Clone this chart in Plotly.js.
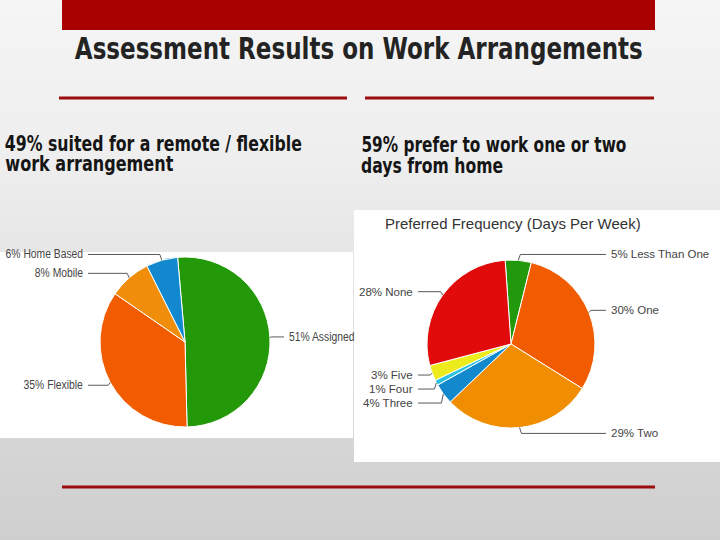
<!DOCTYPE html>
<html>
<head>
<meta charset="utf-8">
<script src="https://cdn.plot.ly/plotly-3.0.1.min.js"></script>
<style>
  html, body { margin: 0; padding: 0; }
  body { width: 720px; height: 540px; background: linear-gradient(#f5f5f5 0%, #eeeeee 30%, #e2e2e2 55%, #d6d6d6 80%, #cfcfcf 100%); }
  #chart { width: 720px; height: 540px; }
</style>
</head>
<body>
<div id="chart"></div>
<script>
// ---- data ----
var arrLabels = ['Assigned', 'Flexible', 'Mobile', 'Home Based'];
var arrValues = [51, 35, 8, 6];
var arrColors = ['#23990a', '#f15c00', '#f08d0a', '#1289cf'];

var freqLabels = ['Less Than One', 'One', 'Two', 'Three', 'Four', 'Five', 'None'];
var freqValues = [5, 30, 29, 4, 1, 3, 28];
var freqColors = ['#22990c', '#f15c00', '#f08d00', '#1288cd', '#2cc0e3', '#ecec1c', '#e10b0b'];

var W = 720, H = 540;
function px(x) { return x / W; }
function py(y) { return 1 - y / H; }

// pie geometry (pixels); squeeze = horizontal squash of the label text
var leftPie = { cx: 185, cy: 342, r: 85, rot: -5, colL: 85, colR: 287, size: 12, squeeze: 0.86 };
var rightPie = { cx: 511, cy: 344, r: 84, rot: -4, colL: 415, colR: 609, size: 11.5, squeeze: 1 };

var squeezeList = [];   // {index, factor} or {index, width}

function pieTrace(labels, values, colors, p) {
    return {
        type: 'pie',
        labels: labels,
        values: values,
        sort: false,
        direction: 'clockwise',
        rotation: p.rot,
        textinfo: 'none',
        hoverinfo: 'skip',
        marker: { colors: colors, line: { color: '#ffffff', width: 1 } },
        domain: {
            x: [px(p.cx - p.r), px(p.cx + p.r)],
            y: [py(p.cy + p.r), py(p.cy - p.r)]
        }
    };
}

// outside labels with leader lines, placed from the slice angles
function leaderLabels(labels, values, p, annos, shapes) {
    var total = values.reduce(function (a, b) { return a + b; }, 0);
    var acc = p.rot, items = [];
    for (var i = 0; i < values.length; i++) {
        var span = values[i] / total * 360;
        var mid = (acc + span / 2) * Math.PI / 180;
        acc += span;
        items.push({
            text: values[i] + '% ' + labels[i],
            side: Math.sin(mid) >= 0 ? 1 : -1,
            ex: p.cx + p.r * Math.sin(mid),
            ey: p.cy - p.r * Math.cos(mid),
            ly: p.cy - p.r * 1.07 * Math.cos(mid)
        });
    }
    [-1, 1].forEach(function (s) {
        var grp = items.filter(function (d) { return d.side === s; })
            .sort(function (a, b) { return a.ly - b.ly; });
        for (var k = 1; k < grp.length; k++) {
            if (grp[k].ly < grp[k - 1].ly + 14) grp[k].ly = grp[k - 1].ly + 14;
        }
    });
    items.forEach(function (d) {
        var col = d.side > 0 ? p.colR : p.colL;
        var lineEnd = col - d.side * 3;
        var bend = d.ex + d.side * 2;
        shapes.push({
            type: 'path', xref: 'paper', yref: 'paper',
            path: 'M ' + px(lineEnd) + ' ' + py(d.ly) + ' L ' + px(bend) + ' ' + py(d.ly) +
                  ' L ' + px(d.ex) + ' ' + py(d.ey),
            line: { color: '#5a5a5a', width: 1 }
        });
        if (p.squeeze < 1) squeezeList.push({ index: annos.length, factor: p.squeeze });
        annos.push({
            text: d.text, xref: 'paper', yref: 'paper', showarrow: false,
            x: px(col), y: py(d.ly), xanchor: d.side > 0 ? 'left' : 'right', yanchor: 'middle',
            align: d.side > 0 ? 'left' : 'right',
            font: { family: 'Liberation Sans, Arial, sans-serif', size: p.size, color: '#444444' }
        });
    });
}

var heavy = 'DejaVu Sans, sans-serif';

var shapes = [
    // white panels behind the charts
    { type: 'rect', xref: 'paper', yref: 'paper', layer: 'below', x0: px(0), x1: px(353), y0: py(438), y1: py(252),
      fillcolor: '#ffffff', line: { width: 0 } },
    { type: 'rect', xref: 'paper', yref: 'paper', layer: 'below', x0: px(354), x1: px(720), y0: py(462), y1: py(210),
      fillcolor: '#ffffff', line: { width: 0 } },
    // red header bar and rules
    { type: 'rect', xref: 'paper', yref: 'paper', x0: px(62), x1: px(655), y0: py(30), y1: py(0),
      fillcolor: '#a90000', line: { width: 0 } },
    { type: 'rect', xref: 'paper', yref: 'paper', x0: px(59), x1: px(347), y0: py(99.5), y1: py(96.5),
      fillcolor: '#9b0c0c', line: { width: 0 } },
    { type: 'rect', xref: 'paper', yref: 'paper', x0: px(365), x1: px(654), y0: py(99.5), y1: py(96.5),
      fillcolor: '#9b0c0c', line: { width: 0 } },
    { type: 'rect', xref: 'paper', yref: 'paper', x0: px(62), x1: px(655), y0: py(488.5), y1: py(485.5),
      fillcolor: '#9b0c0c', line: { width: 0 } }
];

// condensed headline texts: centre x, centre y, target width (px)
var heads = [
    { text: 'Assessment Results on Work Arrangements', cx: 359, cy: 49, w: 568, size: 29.5, color: '#232323' },
    { text: '49% suited for a remote / flexible', cx: 153.5, cy: 144, w: 297, size: 20.5, color: '#151515' },
    { text: 'work arrangement', cx: 89, cy: 164, w: 168, size: 20.5, color: '#151515' },
    { text: '59% prefer to work one or two', cx: 493.5, cy: 145.5, w: 265, size: 20.5, color: '#151515' },
    { text: 'days from home', cx: 432, cy: 166.3, w: 142, size: 20.5, color: '#151515' }
];

var annotations = heads.map(function (h, i) {
    squeezeList.push({ index: i, width: h.w });
    return { text: h.text, x: px(h.cx), y: py(h.cy), xanchor: 'center', yanchor: 'middle',
             font: { family: heavy, size: h.size, weight: 'bold', color: h.color } };
});
annotations.push({ text: 'Preferred Frequency (Days Per Week)', x: px(383), y: py(224), xanchor: 'left', yanchor: 'middle',
                   font: { family: 'Liberation Sans, Arial, sans-serif', size: 15, color: '#333333' } });
annotations.forEach(function (a) { a.xref = 'paper'; a.yref = 'paper'; a.showarrow = false; });

leaderLabels(arrLabels, arrValues, leftPie, annotations, shapes);
leaderLabels(freqLabels, freqValues, rightPie, annotations, shapes);

var data = [
    pieTrace(arrLabels, arrValues, arrColors, leftPie),
    pieTrace(freqLabels, freqValues, freqColors, rightPie)
];

var layout = {
    width: W, height: H,
    margin: { l: 0, r: 0, t: 0, b: 0 },
    paper_bgcolor: 'rgba(0,0,0,0)',
    plot_bgcolor: 'rgba(0,0,0,0)',
    showlegend: false,
    shapes: shapes,
    annotations: annotations
};

Plotly.newPlot('chart', data, layout, { staticPlot: true, displayModeBar: false }).then(function (gd) {
    // squeeze texts to the narrow widths seen on the slide
    squeezeList.forEach(function (s) {
        var t = gd.querySelector('.annotation[data-index="' + s.index + '"] text.annotation-text');
        if (!t) return;
        var len = s.width || t.getComputedTextLength() * s.factor;
        t.setAttribute('textLength', len);
        t.setAttribute('lengthAdjust', 'spacingAndGlyphs');
    });
});
</script>
</body>
</html>
